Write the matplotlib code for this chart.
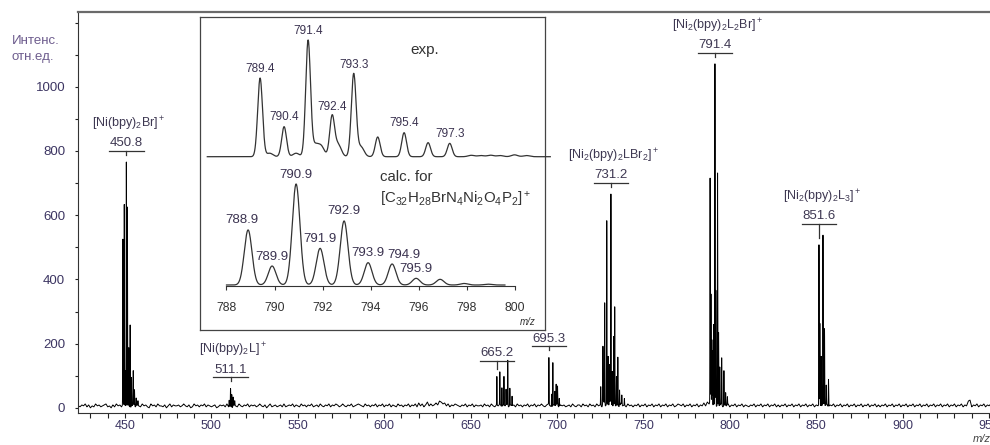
import numpy as np
import matplotlib
matplotlib.use("Agg")
import matplotlib.pyplot as plt
from matplotlib.ticker import MultipleLocator

plt.rcParams['font.family'] = ['Liberation Sans', 'DejaVu Sans']
plt.rcParams['mathtext.fontset'] = 'custom'
plt.rcParams['mathtext.rm'] = 'Liberation Sans'
plt.rcParams['mathtext.it'] = 'Liberation Sans:italic'
plt.rcParams['mathtext.default'] = 'regular'

#%% data - full ESI spectrum
# baseline noise, one digit per m/z unit starting at 423 (x3 counts)
noise_start = 423
noise_digits = (
    "2132413021423123412031423142130241321423104231422130241322"
    "3124213014231324132123013231412032142132413231242130241231"
    "2314123241321423132412314213241324312421324123432142313241"
    "3241324132142313241324152413624235376452413243213241324132"
    "2314231421324132413231423132413241324213421324132312314213"
    "3142314231423172438142315231423132413241324132413241324124"
    "3241324132413252647241324132413241324132132413241324132413"
    "1324132413241324132413241624132413241324132413241324132413"
    "1324132413241324132413241324132413241324132413241327813241"
    "3241324132"
)

peak_mz = [448.8, 449.6, 450.2, 450.8, 451.4, 452.2, 453.0, 453.8, 454.8, 455.5, 456.5, 457.5,
           510.3, 511.1, 511.8, 512.6, 513.5,
           665.2, 666.9, 668.1, 669.3, 670.5, 671.5, 672.7, 674.0,
           695.3, 696.9, 697.6, 698.8, 699.5, 700.3, 701.3,
           725.3, 726.6, 727.6, 728.8, 729.6, 730.4, 731.2, 732.0, 732.8, 733.4, 734.4, 735.2,
           736.2, 737.5, 739.0,
           788.6, 789.1, 789.6, 790.0, 790.6, 791.4, 791.9, 792.9, 793.5, 794.2, 795.3, 796.6,
           797.6, 798.6,
           851.6, 852.1, 852.9, 853.9, 854.8, 855.8, 857.1]
peak_int = [515, 625, 110, 762, 620, 180, 258, 90, 105, 50, 25, 15,
            20, 56, 40, 28, 15,
            89, 103, 60, 92, 50, 144, 55, 30,
            150, 40, 134, 45, 66, 60, 25,
            60, 178, 315, 572, 150, 120, 646, 110, 212, 305, 90, 150,
            50, 30, 20,
            698, 343, 200, 171, 250, 1063, 371, 741, 233, 120, 150, 109,
            40, 25,
            498, 258, 160, 534, 238, 60, 87]

ion_mz = [450.8, 511.1, 665.2, 695.3, 731.2, 791.4, 851.6]
ion_names = [r'[Ni(bpy)$_2$Br]$^+$', r'[Ni(bpy)$_2$L]$^+$', '', '',
             r'[Ni$_2$(bpy)$_2$LBr$_2$]$^+$', r'[Ni$_2$(bpy)$_2$L$_2$Br]$^+$',
             r'[Ni$_2$(bpy)$_2$L$_3$]$^+$']

#%% data - isotope pattern (inset), relative intensity %
exp_mz = [789.4, 790.4, 791.4, 792.4, 793.3, 794.3, 795.4, 796.4, 797.3]
exp_int = [67.8, 25.9, 100, 34.5, 71.3, 17.0, 20.7, 12.1, 11.5]
exp_labeled = [789.4, 790.4, 791.4, 792.4, 793.3, 795.4, 797.3]
# shoulders and small bumps on the experimental trace
exp_sh_mz = [789.8, 790.9, 791.7, 791.95, 792.65, 793.6, 798.2, 798.6, 799.0, 799.4, 800.0, 800.5]
exp_sh_int = [3.0, 3.0, 9.5, 8.5, 10.5, 8.5, 1.2, 1.0, 1.3, 1.0, 1.6, 1.0]

calc_mz = [788.9, 789.9, 790.9, 791.9, 792.9, 793.9, 794.9, 795.9, 796.9, 797.9, 798.9]
calc_int = [54.5, 18.8, 100, 36.3, 63.4, 22.1, 20.8, 6.6, 5.6, 1.5, 0.8]
calc_labeled = 8
calc_label_nudge = [-0.25, 0, 0, 0, 0, 0, 0.5, 0]

#%% build profiles
def profile(x, centres, heights, sigma):
    y = np.zeros_like(x)
    for c, h in zip(centres, heights):
        y += h * np.exp(-0.5 * ((x - c) / sigma) ** 2)
    return y

noise_vals = np.array([int(d) for d in noise_digits]) * 3.0
noise_x = noise_start + np.arange(len(noise_vals))

mz = np.arange(423, 962, 0.04)
spec = np.interp(mz, noise_x, noise_vals) + profile(mz, peak_mz, peak_int, 0.09)

fig = plt.figure(figsize=(9.9, 4.45), dpi=100)
W, H = 990.0, 445.0

tick_col = '#3c3562'
txt_col = '#3e3852'

ax = fig.add_axes([78.3 / W, 1 - 412.5 / H, (1006.3 - 78.3) / W, (412.5 - 12.3) / H])
ax.plot(mz, spec, color='black', lw=0.7)
ax.set_xlim(423, 960)
ax.set_ylim(-14.6, 1232)
ax.xaxis.set_major_locator(MultipleLocator(50))
ax.xaxis.set_minor_locator(MultipleLocator(10))
ax.yaxis.set_major_locator(MultipleLocator(200))
ax.yaxis.set_minor_locator(MultipleLocator(100))
ax.set_yticks(np.arange(0, 1001, 200))
ax.tick_params(axis='x', which='both', direction='out', length=3.5, width=0.8, colors='#222',
               labelcolor=tick_col, labelsize=9, pad=2)
ax.tick_params(axis='y', which='both', direction='out', length=2.5, width=0.8, colors='#222',
               labelcolor=tick_col, labelsize=9.5, pad=7)
ax.spines['right'].set_visible(False)
ax.spines['top'].set_color('#6a6a6a')
ax.spines['top'].set_linewidth(1.6)
ax.spines['left'].set_color('#333')
ax.spines['bottom'].set_color('#333')

fig.text(12 / W, 1 - 41 / H, 'Интенс.', color='#6e5d8e', fontsize=9.5, va='center', ha='left')
fig.text(12 / W, 1 - 57 / H, 'отн.ед.', color='#6e5d8e', fontsize=9.5, va='center', ha='left')
fig.text(982 / W, 1 - 439 / H, 'm/z', color='#444', fontsize=8, style='italic', ha='center', va='center')

# peak labels with underline and pointer
for m, name in zip(ion_mz, ion_names):
    near = (mz > m - 6) & (mz < m + 6)
    level = spec[near].max() + 35
    tip = spec[np.abs(mz - m) < 0.3].max() + 22
    ax.plot([m - 10, m + 10], [level, level], color='#333', lw=0.9)
    ax.plot([m, m], [level, tip], color='#333', lw=0.9)
    ax.annotate(f'{m:.1f}', xy=(m, level), xytext=(0, 1.2), textcoords='offset points',
                ha='center', va='bottom', fontsize=9.5, color=txt_col)
    if name:
        ax.annotate(name, xy=(m, level), xytext=(2, 13), textcoords='offset points',
                    ha='center', va='bottom', fontsize=9, color=txt_col)

#%% inset
ax_box = fig.add_axes([200 / W, 1 - 330 / H, 345 / W, 313 / H])
ax_box.set_xticks([])
ax_box.set_yticks([])
for s in ax_box.spines.values():
    s.set_color('#444')
    s.set_linewidth(0.9)

ax_in = fig.add_axes([200 / W, 1 - 286 / H, 345 / W, 269 / H])
ax_in.patch.set_alpha(0)
ax_in.set_xlim(786.896, 801.27)
ax_in.set_ylim(0, 269)
for s in ['top', 'right', 'left']:
    ax_in.spines[s].set_visible(False)
ax_in.spines['bottom'].set_bounds(788, 800)
ax_in.spines['bottom'].set_color('#333')
ax_in.set_yticks([])
ax_in.set_xticks(np.arange(788, 801, 2))
ax_in.tick_params(axis='x', direction='out', length=3.2, width=0.8, colors='#333',
                  labelcolor='#333', labelsize=8.7, pad=8)

exp_scale = 1.16
exp_base = 129.3
calc_scale = 1.01
calc_base = 1.0

xi = np.arange(787.2, 801.5, 0.01)
exp_y = profile(xi, exp_mz, exp_int, 0.1) + profile(xi, exp_sh_mz, exp_sh_int, 0.13)
ax_in.plot(xi, exp_base + exp_scale * exp_y, color='#333', lw=0.9, clip_on=False)

xc = np.arange(788.0, 799.6, 0.01)
calc_y = profile(xc, calc_mz, calc_int, 0.16)
ax_in.plot(xc, calc_base + calc_scale * calc_y, color='#333', lw=0.9)

for m, h in zip(exp_mz, exp_int):
    if m in exp_labeled:
        ax_in.annotate(f'{m:.1f}', xy=(m, exp_base + exp_scale * h), xytext=(0, 2.5),
                       textcoords='offset points', ha='center', va='bottom', fontsize=8.5, color='#3b3350')

for m, h, dx in zip(calc_mz[:calc_labeled], calc_int[:calc_labeled], calc_label_nudge):
    ax_in.annotate(f'{m:.1f}', xy=(m + dx, calc_base + calc_scale * h), xytext=(0, 2.5),
                   textcoords='offset points', ha='center', va='bottom', fontsize=9.5, color='#3b3350')

ax_in.text(796.27, 236, 'exp.', ha='center', va='center', fontsize=11, color='#333')
ax_in.text(794.4, 109.3, 'calc. for', ha='left', va='center', fontsize=10.8, color='#333')
ax_in.text(794.4, 86.7, r'[C$_{32}$H$_{28}$BrN$_4$Ni$_2$O$_4$P$_2$]$^+$', ha='left', va='center',
           fontsize=10.8, color='#333')
ax_in.text(800.55, -35.7, 'm/z', ha='center', va='center', fontsize=7, style='italic', color='#333',
           clip_on=False)

fig.savefig('out.png', dpi=100)
